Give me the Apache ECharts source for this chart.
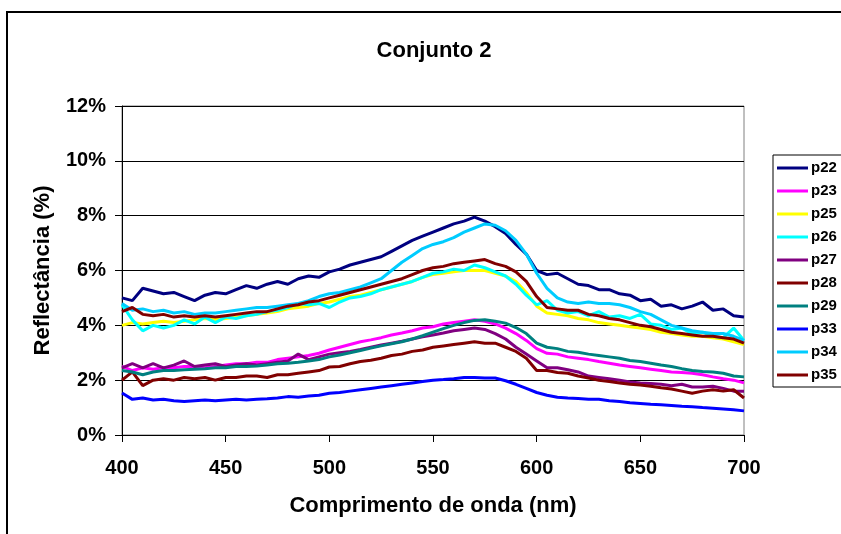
<!DOCTYPE html>
<html lang="pt">
<head>
    <meta charset="utf-8">
    <title>Conjunto 2</title>
    <script type="text/javascript" src="https://cdn.jsdelivr.net/npm/echarts@6.0.0/dist/echarts.min.js"></script>
    <style>
        html, body { margin: 0; padding: 0; background: #fff; }
        #chart { width: 841px; height: 534px; }
    </style>
</head>
<body>
<div id="chart"></div>

<script type="text/javascript">
    // comprimento de onda (nm)
    var wl = [400, 405, 410, 415, 420, 425, 430, 435, 440, 445,
              450, 455, 460, 465, 470, 475, 480, 485, 490, 495,
              500, 505, 510, 515, 520, 525, 530, 535, 540, 545,
              550, 555, 560, 565, 570, 575, 580, 585, 590, 595,
              600, 605, 610, 615, 620, 625, 630, 635, 640, 645,
              650, 655, 660, 665, 670, 675, 680, 685, 690, 695,
              700];

    // reflectancia (%) por amostra
    var p22 = [5.0, 4.9, 5.35, 5.25, 5.15, 5.2, 5.05, 4.9, 5.1, 5.2,
               5.15, 5.3, 5.45, 5.35, 5.5, 5.6, 5.5, 5.7, 5.8, 5.75,
               5.95, 6.05, 6.2, 6.3, 6.4, 6.5, 6.7, 6.9, 7.1, 7.25,
               7.4, 7.55, 7.7, 7.8, 7.95, 7.8, 7.6, 7.35, 6.95, 6.6,
               6.0, 5.85, 5.9, 5.7, 5.5, 5.45, 5.3, 5.3, 5.15, 5.1,
               4.9, 4.95, 4.7, 4.75, 4.6, 4.7, 4.85, 4.55, 4.6, 4.35,
               4.3];
    var p23 = [2.5, 2.35, 2.45, 2.4, 2.45, 2.45, 2.5, 2.5, 2.45, 2.5,
               2.55, 2.6, 2.6, 2.65, 2.65, 2.75, 2.8, 2.85, 2.9, 2.98,
               3.1, 3.2, 3.3, 3.4, 3.47, 3.55, 3.65, 3.72, 3.8, 3.9,
               3.95, 4.05, 4.1, 4.15, 4.2, 4.15, 4.05, 3.9, 3.7, 3.45,
               3.15, 2.98, 2.95, 2.85, 2.8, 2.75, 2.68, 2.62, 2.55, 2.5,
               2.45, 2.4, 2.35, 2.3, 2.28, 2.25, 2.2, 2.12, 2.05, 2.0,
               1.9];
    var p25 = [4.0, 4.1, 4.05, 4.1, 4.15, 4.1, 4.15, 4.2, 4.25, 4.2,
               4.25, 4.3, 4.35, 4.4, 4.45, 4.5, 4.6, 4.65, 4.7, 4.8,
               4.85, 4.95, 5.05, 5.1, 5.2, 5.3, 5.4, 5.5, 5.6, 5.75,
               5.85, 5.9, 5.95, 6.0, 6.0, 6.0, 5.9, 5.8, 5.6, 5.2,
               4.7, 4.45, 4.4, 4.35, 4.25, 4.2, 4.1, 4.05, 4.0, 3.95,
               3.9, 3.85, 3.75, 3.7, 3.65, 3.6, 3.6, 3.55, 3.5, 3.4,
               3.3];
    var p26 = [4.75, 4.2, 3.8, 4.0, 3.9, 4.0, 4.2, 4.05, 4.3, 4.1,
               4.3, 4.25, 4.35, 4.4, 4.5, 4.55, 4.65, 4.8, 4.75, 4.8,
               4.65, 4.85, 5.0, 5.05, 5.15, 5.3, 5.4, 5.5, 5.6, 5.75,
               5.9, 5.95, 6.05, 6.0, 6.2, 6.1, 5.95, 5.8, 5.5, 5.1,
               4.75, 4.9, 4.55, 4.45, 4.5, 4.35, 4.5, 4.3, 4.35, 4.25,
               4.4, 4.05, 4.0, 3.85, 3.9, 3.7, 3.75, 3.6, 3.55, 3.9,
               3.45];
    var p27 = [2.45, 2.6, 2.45, 2.6, 2.45, 2.55, 2.7, 2.5, 2.55, 2.6,
               2.5, 2.55, 2.6, 2.55, 2.6, 2.65, 2.7, 2.95, 2.75, 2.85,
               2.95, 3.0, 3.05, 3.12, 3.2, 3.28, 3.35, 3.42, 3.5, 3.58,
               3.65, 3.72, 3.8, 3.85, 3.9, 3.85, 3.7, 3.5, 3.2, 2.95,
               2.7, 2.45, 2.45, 2.38, 2.3, 2.15, 2.1, 2.05, 2.0, 1.93,
               1.9, 1.88, 1.85, 1.8, 1.85, 1.75, 1.75, 1.78, 1.7, 1.6,
               1.6];
    var p28 = [2.0, 2.3, 1.8, 2.0, 2.05, 2.0, 2.1, 2.05, 2.1, 2.0,
               2.1, 2.1, 2.15, 2.15, 2.1, 2.2, 2.2, 2.25, 2.3, 2.35,
               2.48, 2.5, 2.6, 2.68, 2.73, 2.8, 2.9, 2.95, 3.05, 3.1,
               3.2, 3.25, 3.3, 3.35, 3.4, 3.35, 3.35, 3.2, 3.05, 2.8,
               2.35, 2.35, 2.28, 2.25, 2.15, 2.08, 2.0, 1.95, 1.9, 1.85,
               1.82, 1.78, 1.72, 1.68, 1.6, 1.52, 1.6, 1.65, 1.6, 1.65,
               1.35];
    var p29 = [2.35, 2.3, 2.2, 2.3, 2.35, 2.35, 2.38, 2.4, 2.42, 2.45,
               2.45, 2.5, 2.5, 2.52, 2.55, 2.6, 2.62, 2.65, 2.7, 2.75,
               2.85, 2.92, 3.0, 3.08, 3.17, 3.25, 3.33, 3.4, 3.5, 3.62,
               3.75, 3.88, 4.0, 4.1, 4.18, 4.2, 4.15, 4.08, 3.92, 3.7,
               3.35, 3.2, 3.15, 3.05, 3.02, 2.95, 2.9, 2.85, 2.8, 2.72,
               2.68, 2.62, 2.55, 2.5, 2.42, 2.35, 2.32, 2.3, 2.25, 2.15,
               2.12];
    var p33 = [1.53, 1.3, 1.35, 1.28, 1.3, 1.25, 1.22, 1.25, 1.28, 1.25,
               1.28, 1.3, 1.28, 1.3, 1.32, 1.35, 1.4, 1.38, 1.42, 1.45,
               1.52, 1.55, 1.6, 1.65, 1.7, 1.75, 1.8, 1.85, 1.9, 1.95,
               2.0, 2.02, 2.05, 2.1, 2.1, 2.08, 2.08, 1.98, 1.85, 1.7,
               1.55, 1.45, 1.38, 1.35, 1.33, 1.3, 1.3, 1.25, 1.22, 1.18,
               1.15, 1.12, 1.1, 1.08, 1.05, 1.03, 1.0, 0.98, 0.95, 0.92,
               0.88];
    var p34 = [4.8, 4.55, 4.6, 4.5, 4.55, 4.45, 4.5, 4.4, 4.45, 4.45,
               4.5, 4.55, 4.6, 4.65, 4.65, 4.7, 4.75, 4.8, 4.9, 5.05,
               5.15, 5.2, 5.3, 5.4, 5.55, 5.7, 6.0, 6.3, 6.55, 6.8,
               6.95, 7.05, 7.2, 7.4, 7.55, 7.7, 7.65, 7.45, 7.1, 6.6,
               5.9, 5.35, 5.0, 4.85, 4.8, 4.85, 4.8, 4.8, 4.75, 4.65,
               4.5, 4.4, 4.2, 4.0, 3.9, 3.8, 3.75, 3.7, 3.7, 3.6,
               3.45];
    var p35 = [4.5, 4.65, 4.4, 4.35, 4.4, 4.3, 4.35, 4.3, 4.35, 4.3,
               4.35, 4.4, 4.45, 4.5, 4.5, 4.6, 4.7, 4.75, 4.85, 4.9,
               5.0, 5.1, 5.2, 5.3, 5.4, 5.5, 5.6, 5.7, 5.85, 6.0,
               6.1, 6.15, 6.25, 6.3, 6.35, 6.4, 6.25, 6.15, 5.95, 5.6,
               5.05, 4.65, 4.6, 4.55, 4.55, 4.4, 4.35, 4.25, 4.2, 4.1,
               4.0, 3.95, 3.85, 3.75, 3.7, 3.65, 3.6, 3.6, 3.55, 3.5,
               3.35];

    var names = ['p22', 'p23', 'p25', 'p26', 'p27', 'p28', 'p29', 'p33', 'p34', 'p35'];
    var values = [p22, p23, p25, p26, p27, p28, p29, p33, p34, p35];
    var colors = ['#000080', '#FF00FF', '#FFFF00', '#00FFFF', '#800080',
                  '#800000', '#008080', '#0000FF', '#00CCFF', '#800000'];

    var font = 'Liberation Sans, Arial, sans-serif';

    var series = [];
    for (var i = 0; i < names.length; i++) {
        var pts = [];
        for (var j = 0; j < wl.length; j++) {
            pts.push([wl[j], values[i][j]]);
        }
        series.push({
            name: names[i],
            type: 'line',
            data: pts,
            showSymbol: false,
            symbol: 'none',
            lineStyle: { width: 3, color: colors[i] },
            itemStyle: { color: colors[i] }
        });
    }

    var myChart = echarts.init(document.getElementById('chart'), null, { renderer: 'canvas' });
    var option = {
        animation: false,
        backgroundColor: '#fff',
        title: {
            text: 'Conjunto 2',
            left: 429,
            top: 35,
            textAlign: 'center',
            textStyle: { fontFamily: font, fontSize: 22, fontWeight: 'bold', color: '#000' }
        },
        legend: {
            orient: 'vertical',
            left: 773,
            top: 155,
            padding: [5, 30, 4, 4],
            itemWidth: 31,
            itemHeight: 3,
            itemGap: 7,
            itemStyle: { borderWidth: 0 },
            icon: 'rect',
            borderColor: '#000',
            borderWidth: 1,
            textStyle: { fontFamily: font, fontSize: 15, fontWeight: 'bold', color: '#000', lineHeight: 16, padding: [0, 0, 0, -2] },
            data: names
        },
        grid: {
            left: 122,
            top: 106,
            right: 97,
            bottom: 99,
            show: true,
            borderColor: '#808080',
            borderWidth: 1
        },
        xAxis: {
            type: 'value',
            min: 400,
            max: 700,
            interval: 50,
            name: 'Comprimento de onda (nm)',
            nameLocation: 'middle',
            nameGap: 60,
            nameTextStyle: { fontFamily: font, fontSize: 22, fontWeight: 'bold', color: '#000' },
            axisLine: { lineStyle: { color: '#000', width: 1 } },
            axisTick: { show: true, length: 7, lineStyle: { color: '#000' } },
            axisLabel: { margin: 23, fontFamily: font, fontSize: 20, fontWeight: 'bold', color: '#000' },
            splitLine: { show: false }
        },
        yAxis: {
            type: 'value',
            min: 0,
            max: 12,
            interval: 2,
            name: 'Reflectância (%)',
            nameLocation: 'middle',
            nameGap: 68,
            nameTextStyle: { fontFamily: font, fontSize: 22, fontWeight: 'bold', color: '#000' },
            axisLine: { show: true, lineStyle: { color: '#000', width: 1 } },
            axisTick: { show: true, length: 7, lineStyle: { color: '#000' } },
            axisLabel: { margin: 16, fontFamily: font, fontSize: 20, fontWeight: 'bold', color: '#000', formatter: '{value}%' },
            splitLine: { show: true, lineStyle: { color: '#000', width: 1 } }
        },
        graphic: [{
            type: 'rect',
            shape: { x: 7, y: 12, width: 900, height: 600 },
            style: { fill: null, stroke: '#000', lineWidth: 2 },
            silent: true,
            z: -1
        }],
        series: series
    };
    myChart.setOption(option);
</script>
</body>
</html>
